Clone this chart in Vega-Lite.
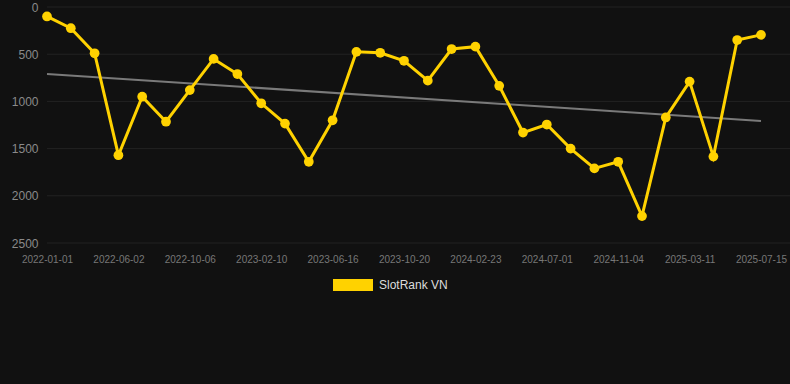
{
  "$schema": "https://vega.github.io/schema/vega-lite/v6.json",
  "width": 743,
  "height": 236,
  "autosize": {"type": "none"},
  "padding": {"left": 47, "top": 7, "right": 0, "bottom": 141},
  "background": "#111111",
  "config": {
    "view": {"stroke": null},
    "font": "Liberation Sans",
    "axis": {"domain": false, "ticks": false, "gridColor": "#232323", "gridWidth": 1}
  },
  "datasets": {
    "ranks": [
      {"date": "2022-01-01", "rank": 100, "series": "SlotRank VN"},
      {"date": "2022-02-20", "rank": 225, "series": "SlotRank VN"},
      {"date": "2022-04-11", "rank": 490, "series": "SlotRank VN"},
      {"date": "2022-06-02", "rank": 1570, "series": "SlotRank VN"},
      {"date": "2022-07-14", "rank": 950, "series": "SlotRank VN"},
      {"date": "2022-08-25", "rank": 1215, "series": "SlotRank VN"},
      {"date": "2022-10-06", "rank": 880, "series": "SlotRank VN"},
      {"date": "2022-11-17", "rank": 550, "series": "SlotRank VN"},
      {"date": "2022-12-29", "rank": 710, "series": "SlotRank VN"},
      {"date": "2023-02-10", "rank": 1020, "series": "SlotRank VN"},
      {"date": "2023-03-24", "rank": 1235, "series": "SlotRank VN"},
      {"date": "2023-05-05", "rank": 1640, "series": "SlotRank VN"},
      {"date": "2023-06-16", "rank": 1200, "series": "SlotRank VN"},
      {"date": "2023-07-28", "rank": 475, "series": "SlotRank VN"},
      {"date": "2023-09-08", "rank": 485, "series": "SlotRank VN"},
      {"date": "2023-10-20", "rank": 570, "series": "SlotRank VN"},
      {"date": "2023-12-01", "rank": 780, "series": "SlotRank VN"},
      {"date": "2024-01-12", "rank": 445, "series": "SlotRank VN"},
      {"date": "2024-02-23", "rank": 420, "series": "SlotRank VN"},
      {"date": "2024-04-05", "rank": 835, "series": "SlotRank VN"},
      {"date": "2024-05-18", "rank": 1330, "series": "SlotRank VN"},
      {"date": "2024-07-01", "rank": 1245, "series": "SlotRank VN"},
      {"date": "2024-08-12", "rank": 1500, "series": "SlotRank VN"},
      {"date": "2024-09-23", "rank": 1710, "series": "SlotRank VN"},
      {"date": "2024-11-04", "rank": 1640, "series": "SlotRank VN"},
      {"date": "2024-12-16", "rank": 2215, "series": "SlotRank VN"},
      {"date": "2025-01-27", "rank": 1170, "series": "SlotRank VN"},
      {"date": "2025-03-11", "rank": 790, "series": "SlotRank VN"},
      {"date": "2025-04-22", "rank": 1585, "series": "SlotRank VN"},
      {"date": "2025-06-03", "rank": 350, "series": "SlotRank VN"},
      {"date": "2025-07-15", "rank": 295, "series": "SlotRank VN"}
    ],
    "trend": [
      {"date": "2022-01-01", "rank": 710},
      {"date": "2025-07-15", "rank": 1207}
    ],
    "grid": [
      {"rank": 0}, {"rank": 500}, {"rank": 1000}, {"rank": 1500}, {"rank": 2000}, {"rank": 2500}
    ]
  },
  "encoding": {
    "x": {
      "field": "date",
      "type": "ordinal",
      "sort": "ascending",
      "scale": {"type": "point", "range": [0, 714], "padding": 0},
      "axis": {
        "title": null,
        "labelAngle": 0,
        "labelFontSize": 10,
        "labelColor": "#777777",
        "labelPadding": 11,
        "gridColor": "#1c1c1c",
        "values": ["2022-01-01", "2022-06-02", "2022-10-06", "2023-02-10", "2023-06-16", "2023-10-20", "2024-02-23", "2024-07-01", "2024-11-04", "2025-03-11", "2025-07-15"]
      }
    },
    "y": {
      "field": "rank",
      "type": "quantitative",
      "scale": {"domain": [0, 2500], "reverse": true, "nice": false, "zero": false},
      "axis": {
        "title": null,
        "grid": false,
        "format": "d",
        "values": [0, 500, 1000, 1500, 2000, 2500],
        "labelFontSize": 12,
        "labelColor": "#8a8a8a",
        "labelPadding": 9
      }
    }
  },
  "layer": [
    {
      "data": {"name": "grid"},
      "mark": {"type": "rule", "color": "#232323", "strokeWidth": 1},
      "encoding": {"x": null, "y": {"field": "rank", "type": "quantitative"}}
    },
    {
      "data": {"name": "trend"},
      "mark": {"type": "line", "color": "#7a7a7a", "strokeWidth": 2}
    },
    {
      "data": {"name": "ranks"},
      "mark": {"type": "line", "color": "#FFD200", "strokeWidth": 3}
    },
    {
      "data": {"name": "ranks"},
      "mark": {"type": "point", "filled": true, "size": 95, "opacity": 1, "shape": "circle"},
      "encoding": {
        "color": {
          "field": "series",
          "type": "nominal",
          "scale": {"range": ["#FFD200"]},
          "legend": {
            "title": null,
            "orient": "none",
            "legendX": 286,
            "legendY": 258,
            "padding": 0,
            "symbolType": "M-1,-0.3L1,-0.3L1,0.3L-1,0.3Z",
            "symbolSize": 1600,
            "symbolStrokeWidth": 0,
            "symbolOpacity": 1,
            "labelFontSize": 12,
            "labelColor": "#dddddd",
            "labelOffset": 6
          }
        }
      }
    }
  ]
}
